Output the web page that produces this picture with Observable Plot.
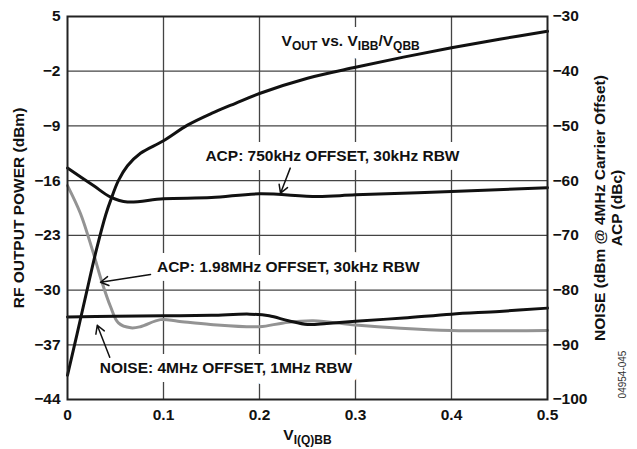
<!DOCTYPE html>
<html>
<head>
<meta charset="utf-8">
<script src="https://cdn.jsdelivr.net/npm/d3@7"></script>
<script src="https://cdn.jsdelivr.net/npm/@observablehq/plot@0.6"></script>
<style>
  html, body { margin: 0; padding: 0; background: #fff; }
</style>
</head>
<body>
<div id="chart"></div>
<script>
// ---- axis ticks ----
const xTicks = [0, 0.1, 0.2, 0.3, 0.4, 0.5];
const leftTicks = [5, -2, -9, -16, -23, -30, -37, -44];          // RF output power (dBm)
const rightTicks = [-30, -40, -50, -60, -70, -80, -90, -100];   // Noise / ACP

// ---- VOUT vs VIBB/VQBB (dBm, left axis) ----
const voutX = [0, 0.01, 0.02, 0.03, 0.04, 0.045, 0.053, 0.0625, 0.076, 0.1, 0.125, 0.15, 0.175, 0.2, 0.25, 0.3, 0.35, 0.4, 0.45, 0.5];
const voutY = [-40.9, -35.6, -30.2, -24.9, -20.3, -18.5, -16.0, -14.1, -12.5, -10.9, -8.9, -7.4, -6.1, -4.85, -2.9, -1.5, -0.2, 1.0, 2.1, 3.1];

// ---- ACP 750kHz offset (dBc, right axis) ----
const acp750X = [0, 0.027, 0.045, 0.0625, 0.1, 0.15, 0.2, 0.26, 0.3, 0.4, 0.5];
const acp750Y = [-57.7, -60.9, -63.0, -63.9, -63.3, -63.1, -62.4, -62.9, -62.6, -62.0, -61.3];

// ---- ACP 1.98MHz offset (dBc, right axis) ----
const acp198X = [0, 0.0135, 0.026, 0.036, 0.045, 0.053, 0.066, 0.076, 0.097, 0.115, 0.149, 0.2, 0.225, 0.256, 0.3, 0.347, 0.4, 0.5];
const acp198Y = [-60.9, -66.0, -72.7, -78.6, -83.1, -86.0, -86.9, -86.7, -85.4, -85.7, -86.3, -86.7, -86.0, -85.6, -86.4, -87.0, -87.4, -87.4];

// ---- Noise 4MHz offset (dBm, right axis) ----
const noiseX = [0, 0.05, 0.1, 0.15, 0.19, 0.21, 0.23, 0.25, 0.27, 0.3, 0.35, 0.4, 0.45, 0.5];
const noiseY = [-84.9, -84.8, -84.7, -84.6, -84.4, -84.7, -85.6, -86.3, -86.1, -85.7, -85.1, -84.4, -83.9, -83.3];

// ---- annotations ----
const labelText = ["VOUT vs. VIBB/VQBB", "ACP: 750kHz OFFSET, 30kHz RBW", "ACP: 1.98MHz OFFSET, 30kHz RBW", "NOISE: 4MHz OFFSET, 1MHz RBW"];
const labelX = [0.295, 0.276, 0.230, 0.165];
const labelY = [1.9, -12.8, -27.1, -40.0];
const arrowX1 = [0.232, 0.0865, 0.044];
const arrowY1 = [-14.4, -28.0, -38.6];
const arrowX2 = [0.2219, 0.0344, 0.031];
const arrowY2 = [-17.6, -29.0, -34.5];

// right axis (-30..-100) maps linearly onto left axis (5..-44)
const toLeft = r => 5 + (r + 30) * 0.7;
const fmt = d => d < 0 ? "\u2212" + Math.abs(d) : String(d);

const series = (xs, ys, conv) => xs.map((x, i) => ({x, y: conv ? toLeft(ys[i]) : ys[i]}));
const vout = series(voutX, voutY, false);
const acp750 = series(acp750X, acp750Y, true);
const acp198 = series(acp198X, acp198Y, true);
const noise = series(noiseX, noiseY, true);
const labels = labelText.map((t, i) => ({t, x: labelX[i], y: labelY[i]}));
const arrows = arrowX1.map((x1, i) => ({x1, y1: arrowY1[i], x2: arrowX2[i], y2: arrowY2[i]}));

const FONT = "'Liberation Sans', Arial, Helvetica, sans-serif";
const T = {fontSize: 15.5, fontWeight: "bold", fill: "#111", textAnchor: "middle", lineAnchor: "middle"};

const chart = Plot.plot({
  width: 637,
  height: 449,
  marginLeft: 67,
  marginRight: 90,
  marginTop: 16,
  marginBottom: 50,
  style: {fontFamily: FONT, fontSize: "15.5px", fontWeight: "bold", background: "#fff", overflow: "visible", color: "#111"},
  x: {domain: [0, 0.5]},
  y: {domain: [-44, 5]},
  marks: [
    Plot.gridX(xTicks.slice(1, -1), {stroke: "#444", strokeOpacity: 1, strokeWidth: 1.3}),
    Plot.gridY(leftTicks.slice(1, -1), {stroke: "#444", strokeOpacity: 1, strokeWidth: 1.3}),
    // white halo boxes behind the annotation labels
    Plot.text(labels, {x: "x", y: "y", text: "t", ...T, fill: "white", stroke: "white", strokeWidth: 18, strokeLinejoin: "round"}),
    Plot.text(labels, {x: "x", y: "y", text: "t", ...T}),
    Plot.line(acp198, {x: "x", y: "y", stroke: "#939393", strokeWidth: 3, curve: "catmull-rom"}),
    Plot.line(noise, {x: "x", y: "y", stroke: "#111", strokeWidth: 3, curve: "catmull-rom"}),
    Plot.line(acp750, {x: "x", y: "y", stroke: "#111", strokeWidth: 3, curve: "catmull-rom"}),
    Plot.line(vout, {x: "x", y: "y", stroke: "#111", strokeWidth: 3, curve: "catmull-rom"}),
    Plot.arrow(arrows, {x1: "x1", y1: "y1", x2: "x2", y2: "y2", stroke: "#111", strokeWidth: 1.5, headLength: 9}),
    Plot.frame({stroke: "#222", strokeWidth: 2}),
    Plot.axisX(xTicks, {tickSize: 0, tickPadding: 9, label: null, fontSize: 15.5,
      tickFormat: d => d === 0 ? "0" : d.toFixed(1)}),
    Plot.axisY(leftTicks, {anchor: "left", tickSize: 0, tickPadding: 7, label: null, fontSize: 15.5, tickFormat: fmt}),
    Plot.axisY(leftTicks, {anchor: "right", tickSize: 0, tickPadding: 5, label: null, fontSize: 15.5,
      tickFormat: d => fmt(rightTicks[leftTicks.indexOf(d)])}),
    Plot.text(["VI(Q)BB"], {frameAnchor: "bottom", dy: 36, ...T}),
    Plot.text(["RF OUTPUT POWER (dBm)"], {frameAnchor: "left", dx: -48, rotate: -90, ...T}),
    Plot.text(["NOISE (dBm @ 4MHz Carrier Offset)"], {frameAnchor: "right", dx: 53, rotate: -90, ...T}),
    Plot.text(["ACP (dBc)"], {frameAnchor: "right", dx: 70, rotate: -90, ...T}),
    Plot.text(["04954-045"], {frameAnchor: "bottom-right", dx: 75, dy: -25, rotate: -90, ...T, fontSize: 10, fontWeight: "normal", fill: "#333"})
  ]
});

// subscripts
function subscriptify(svg, plain, parts) {
  d3.select(svg).selectAll("text").filter(function () { return this.textContent === plain; })
    .each(function () {
      const t = d3.select(this);
      t.text(null);
      let inSub = false;
      parts.forEach(([s, sub]) => {
        const ts = t.append("tspan").text(s);
        if (sub) {
          ts.attr("font-size", "12px");
          if (!inSub) ts.attr("dy", 4);
        } else if (inSub) ts.attr("dy", -4);
        inSub = sub;
      });
    });
}
subscriptify(chart, "VOUT vs. VIBB/VQBB", [["V", false], ["OUT", true], [" vs. V", false], ["IBB", true], ["/V", false], ["QBB", true]]);
subscriptify(chart, "VI(Q)BB", [["V", false], ["I(Q)BB", true]]);

document.getElementById("chart").appendChild(chart);
</script>
</body>
</html>
